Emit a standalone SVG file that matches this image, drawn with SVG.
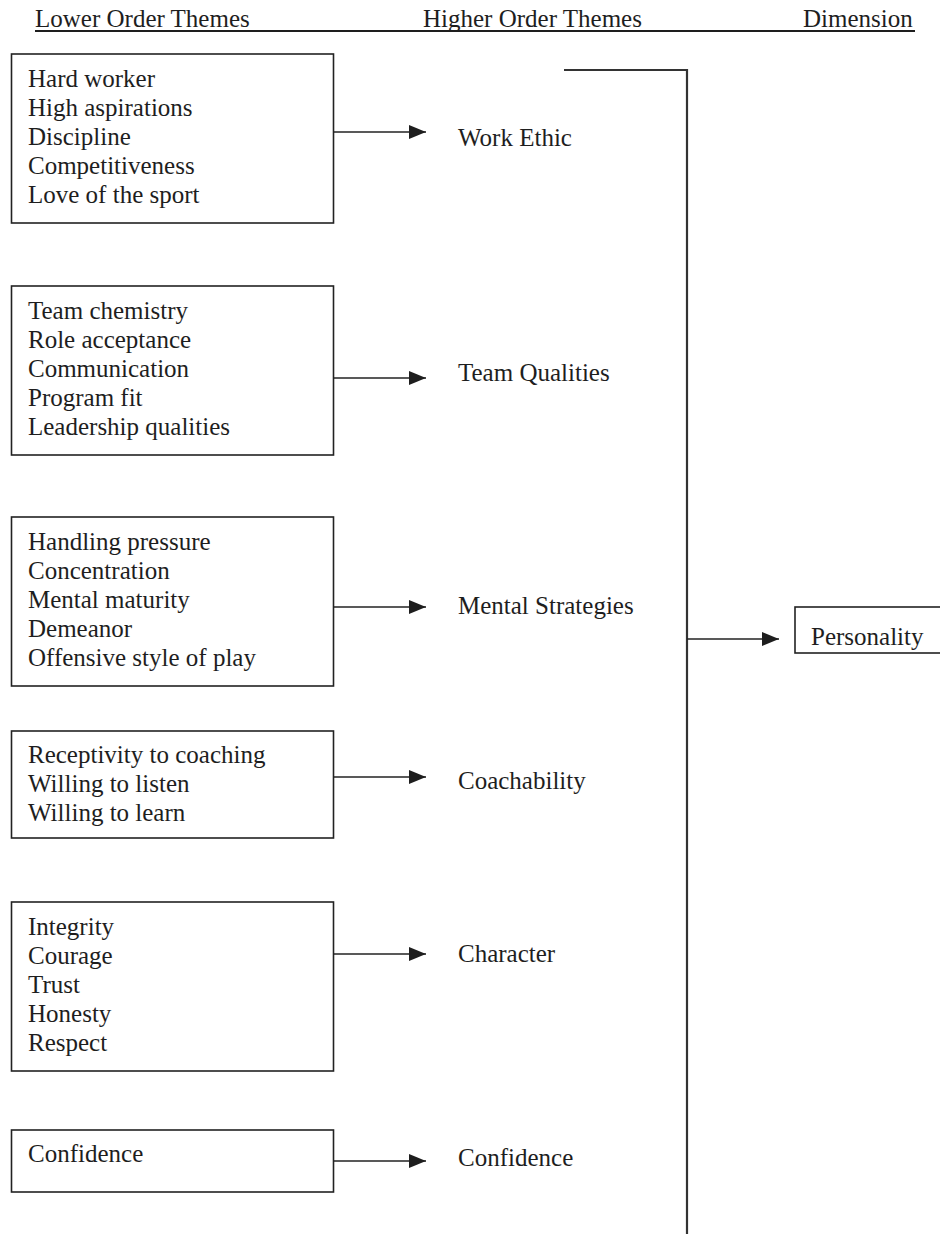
<svg xmlns="http://www.w3.org/2000/svg" width="940" height="1234" viewBox="0 0 940 1234">
<style>
text{font-family:"Liberation Serif","Times New Roman",serif;font-size:25px;fill:#1e1e1e}
.box{fill:#fff;stroke:#222;stroke-width:1.6}
.conn{stroke:#222;stroke-width:1.6;fill:none}
.thick{stroke:#333;stroke-width:2.2;fill:none}
</style>
<defs>
<marker id="arr" markerUnits="userSpaceOnUse" markerWidth="18" markerHeight="16" refX="17" refY="8" orient="auto">
<path d="M0,1 L17,8 L0,15 Z" fill="#1e1e1e"/>
</marker>
</defs>
<rect width="940" height="1234" fill="#fff"/>
<g id="header">
<text x="35" y="27">Lower Order Themes</text>
<text x="423" y="27">Higher Order Themes</text>
<text x="803" y="27">Dimension</text>
<line x1="35" y1="31" x2="915" y2="31" stroke="#1e1e1e" stroke-width="2"/>
</g>
<g id="box-work">
<rect class="box" x="11.5" y="54" width="322" height="169"/>
<text x="28" y="87">Hard worker</text>
<text x="28" y="116">High aspirations</text>
<text x="28" y="145">Discipline</text>
<text x="28" y="174">Competitiveness</text>
<text x="28" y="203">Love of the sport</text>
</g>
<g id="box-team">
<rect class="box" x="11.5" y="286" width="322" height="169"/>
<text x="28" y="319">Team chemistry</text>
<text x="28" y="348">Role acceptance</text>
<text x="28" y="377">Communication</text>
<text x="28" y="406">Program fit</text>
<text x="28" y="435">Leadership qualities</text>
</g>
<g id="box-mental">
<rect class="box" x="11.5" y="517" width="322" height="169"/>
<text x="28" y="550">Handling pressure</text>
<text x="28" y="579">Concentration</text>
<text x="28" y="608">Mental maturity</text>
<text x="28" y="637">Demeanor</text>
<text x="28" y="666">Offensive style of play</text>
</g>
<g id="box-coach">
<rect class="box" x="11.5" y="731" width="322" height="107"/>
<text x="28" y="763">Receptivity to coaching</text>
<text x="28" y="792">Willing to listen</text>
<text x="28" y="821">Willing to learn</text>
</g>
<g id="box-character">
<rect class="box" x="11.5" y="902" width="322" height="169"/>
<text x="28" y="935">Integrity</text>
<text x="28" y="964">Courage</text>
<text x="28" y="993">Trust</text>
<text x="28" y="1022">Honesty</text>
<text x="28" y="1051">Respect</text>
</g>
<g id="box-confidence">
<rect class="box" x="11.5" y="1130" width="322" height="62"/>
<text x="28" y="1162">Confidence</text>
</g>
<g id="label-work"><text x="458" y="146">Work Ethic</text></g>
<g id="label-team"><text x="458" y="381">Team Qualities</text></g>
<g id="label-mental"><text x="458" y="614">Mental Strategies</text></g>
<g id="label-coach"><text x="458" y="789">Coachability</text></g>
<g id="label-character"><text x="458" y="962">Character</text></g>
<g id="label-confidence"><text x="458" y="1166">Confidence</text></g>
<g id="personality">
<rect class="box" x="795" y="607" width="160" height="46"/>
<text x="811" y="645">Personality</text>
</g>
<g id="connectors">
<line class="conn" x1="333" y1="132" x2="426" y2="132" marker-end="url(#arr)"/>
<line class="conn" x1="333" y1="378" x2="426" y2="378" marker-end="url(#arr)"/>
<line class="conn" x1="333" y1="607" x2="426" y2="607" marker-end="url(#arr)"/>
<line class="conn" x1="333" y1="777" x2="426" y2="777" marker-end="url(#arr)"/>
<line class="conn" x1="333" y1="954" x2="426" y2="954" marker-end="url(#arr)"/>
<line class="conn" x1="333" y1="1161" x2="426" y2="1161" marker-end="url(#arr)"/>
<polyline class="thick" points="564,70 687,70 687,1234"/>
<line class="conn" x1="687" y1="639" x2="779" y2="639" marker-end="url(#arr)"/>
</g>
</svg>
